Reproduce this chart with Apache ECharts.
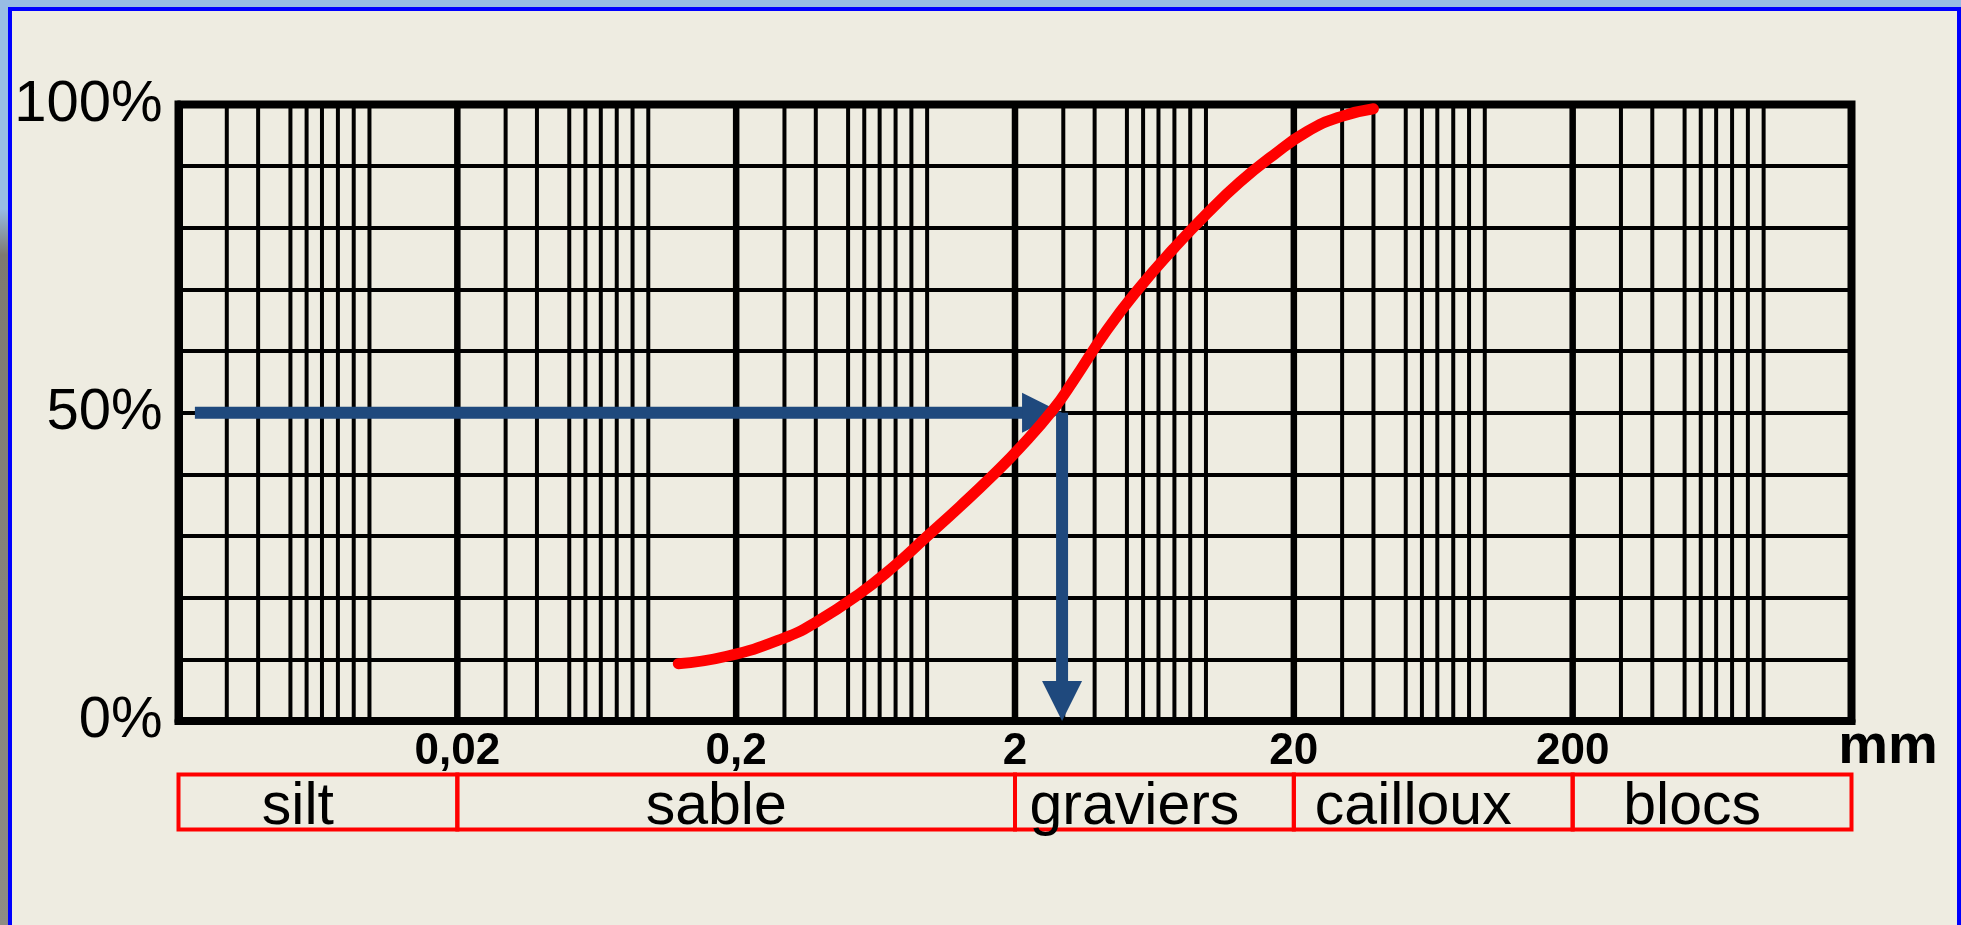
<!DOCTYPE html>
<html>
<head>
<meta charset="utf-8">
<title>Courbe granulométrique</title>
<script src="https://cdn.jsdelivr.net/npm/echarts@6/dist/echarts.min.js"></script>
<style>
  html, body { margin: 0; padding: 0; background: #EEECE1; }
  #chart { width: 1961px; height: 925px; }
</style>
</head>
<body>
<div id="chart"></div>
<script>
// grain size (mm), log scale
const xMin = 0.002;
const xMax = 2000;
const decades = [0.002, 0.02, 0.2, 2, 20, 200];
const tickValues = [0.02, 0.2, 2, 20, 200];
const tickLabels = ['0,02', '0,2', '2', '20', '200'];
// minor lines of the paper, as multiples of each decade start
const minorSteps = [1.49, 1.93, 2.52, 2.88, 3.27, 3.73, 4.25, 4.84];
const yLabelValues = [0, 50, 100];

// grading curve: size (mm) vs % passing
const sizes = [0.124, 0.185, 0.295, 0.389, 0.556, 0.732, 0.965, 1.27, 1.67, 2.09, 2.75, 3.24,
  4.27, 5.62, 7.40, 9.75, 12.8, 16.9, 22.3, 29.3, 38.6];
const passing = [9.3, 10.5, 13.4, 16.1, 20.7, 25.0, 29.9, 34.8, 39.9, 44.4, 50.6, 55.2,
  63.4, 70.4, 76.6, 82.3, 87.4, 91.8, 95.6, 98.0, 99.3];

// D50 reading arrows
const d50 = 2.95;
const arrowStart = 0.00229;
const arrows = [
  [arrowStart, 50, d50, 50],
  [d50, 50, d50, 0]
];

// size classes
const classNames = ['silt', 'sable', 'graviers', 'cailloux', 'blocs'];
const classBounds = [0.002, 0.02, 2, 20, 200, 2000];

const FONT = '"Liberation Sans", Arial, sans-serif';

const minorLines = [];
decades.forEach(b => minorSteps.forEach(m => minorLines.push([b * m, 0])));
const majorLines = tickValues.map(v => [v, 0]);

function gridLine(width) {
  return function (params, api) {
    const a = api.coord([api.value(0), 0]);
    const b = api.coord([api.value(0), 100]);
    return {
      type: 'line',
      shape: { x1: a[0], y1: a[1], x2: b[0], y2: b[1] },
      style: { stroke: '#000', lineWidth: width }
    };
  };
}

function renderArrow(params, api) {
  const p0 = api.coord([api.value(0), api.value(1)]);
  const p1 = api.coord([api.value(2), api.value(3)]);
  const dx = p1[0] - p0[0], dy = p1[1] - p0[1];
  const len = Math.sqrt(dx * dx + dy * dy);
  const ux = dx / len, uy = dy / len;
  const nx = -uy, ny = ux;
  const head = 40, half = 20;
  const bx = p1[0] - ux * head, by = p1[1] - uy * head;
  return {
    type: 'group',
    children: [
      {
        type: 'line',
        shape: { x1: p0[0], y1: p0[1], x2: bx + ux * 2, y2: by + uy * 2 },
        style: { stroke: '#1F497D', lineWidth: 12 }
      },
      {
        type: 'polygon',
        shape: { points: [[p1[0], p1[1]], [bx + nx * half, by + ny * half], [bx - nx * half, by - ny * half]] },
        style: { fill: '#1F497D' }
      }
    ]
  };
}

function renderClass(params, api) {
  const lo = api.value(0), hi = api.value(1);
  const a = api.coord([lo, 1]);
  const b = api.coord([hi, 0]);
  const mid = api.coord([Math.sqrt(lo * hi), 0.5]);
  return {
    type: 'group',
    children: [
      {
        type: 'rect',
        shape: { x: a[0], y: a[1], width: b[0] - a[0], height: b[1] - a[1] },
        style: { fill: null, stroke: '#FF0000', lineWidth: 4 }
      },
      {
        type: 'text',
        x: mid[0] - 20,
        y: mid[1] + 6,
        style: {
          text: classNames[params.dataIndex],
          fill: '#000',
          font: '59px ' + FONT,
          align: 'center',
          verticalAlign: 'middle'
        }
      }
    ]
  };
}

const chart = echarts.init(document.getElementById('chart'));

chart.setOption({
  backgroundColor: '#EEECE1',
  animation: false,
  textStyle: { fontFamily: FONT },
  graphic: [
    { type: 'rect', silent: true, z: -10, shape: { x: 0, y: 0, width: 1961, height: 7 }, style: { fill: '#98BCE4' } },
    {
      type: 'rect', silent: true, z: -10, shape: { x: 0, y: 7, width: 8, height: 918 },
      style: {
        fill: new echarts.graphic.LinearGradient(0, 0, 0, 1, [
          { offset: 0, color: '#98BCE4' },
          { offset: 0.22, color: '#98BCE4' },
          { offset: 0.27, color: '#7E7A70' },
          { offset: 1, color: '#8E8C84' }
        ])
      }
    },
    {
      type: 'polyline', silent: true, z: -5,
      shape: { points: [[10, 940], [10, 9], [1959, 9], [1959, 940]] },
      style: { stroke: '#0000FF', lineWidth: 4, fill: null }
    },
    {
      type: 'text', silent: true, z: 10,
      x: 1888, y: 748,
      style: { text: 'mm', fill: '#000', font: 'bold 56px ' + FONT, align: 'center', verticalAlign: 'middle' }
    }
  ],
  grid: [
    { left: 178.5, right: 109.5, top: 104.5, bottom: 204, show: true, borderColor: '#000', borderWidth: 8, backgroundColor: 'transparent' },
    { left: 178.5, right: 109.5, top: 774.5, bottom: 95.5 }
  ],
  xAxis: [
    {
      type: 'log', logBase: 10, min: xMin, max: xMax, gridIndex: 0,
      axisLine: { show: true, lineStyle: { color: '#000', width: 8 } },
      axisTick: { show: false },
      splitLine: { show: false },
      axisLabel: {
        customValues: tickValues,
        margin: 9,
        fontSize: 44,
        fontWeight: 'bold',
        color: '#000',
        fontFamily: FONT,
        formatter: v => {
          const i = tickValues.findIndex(t => Math.abs(Math.log10(t) - Math.log10(v)) < 1e-6);
          return i < 0 ? '' : tickLabels[i];
        }
      }
    },
    { type: 'log', logBase: 10, min: xMin, max: xMax, gridIndex: 1, show: false }
  ],
  yAxis: [
    {
      type: 'value', min: 0, max: 100, interval: 10, gridIndex: 0,
      axisLine: { show: true, lineStyle: { color: '#000', width: 8 } },
      axisTick: { show: false },
      splitLine: { show: true, lineStyle: { color: '#000', width: 4 } },
      axisLabel: {
        margin: 16,
        fontSize: 58,
        color: '#000',
        fontFamily: FONT,
        padding: [0, 0, 18, 0],
        showMinLabel: true,
        showMaxLabel: true,
        formatter: v => yLabelValues.indexOf(v) >= 0 ? v + '%' : ''
      }
    },
    { type: 'value', min: 0, max: 1, gridIndex: 1, show: false }
  ],
  series: [
    {
      type: 'custom', name: 'minor', xAxisIndex: 0, yAxisIndex: 0, z: 2, silent: true,
      encode: { x: 0, y: 1 }, data: minorLines, renderItem: gridLine(4)
    },
    {
      type: 'custom', name: 'major', xAxisIndex: 0, yAxisIndex: 0, z: 2, silent: true,
      encode: { x: 0, y: 1 }, data: majorLines, renderItem: gridLine(6.5)
    },
    {
      type: 'custom', name: 'D50', xAxisIndex: 0, yAxisIndex: 0, z: 3, silent: true,
      encode: { x: [0, 2], y: [1, 3] }, data: arrows, renderItem: renderArrow
    },
    {
      type: 'line', name: 'courbe', xAxisIndex: 0, yAxisIndex: 0, z: 4,
      smooth: true, symbol: 'none',
      lineStyle: { color: '#FF0000', width: 11, cap: 'round' },
      data: sizes.map((s, i) => [s, passing[i]])
    },
    {
      type: 'custom', name: 'classes', xAxisIndex: 1, yAxisIndex: 1, z: 2, silent: true,
      encode: { x: [0, 1] },
      data: classNames.map((n, i) => [classBounds[i], classBounds[i + 1]]),
      renderItem: renderClass
    }
  ]
});
</script>
</body>
</html>
